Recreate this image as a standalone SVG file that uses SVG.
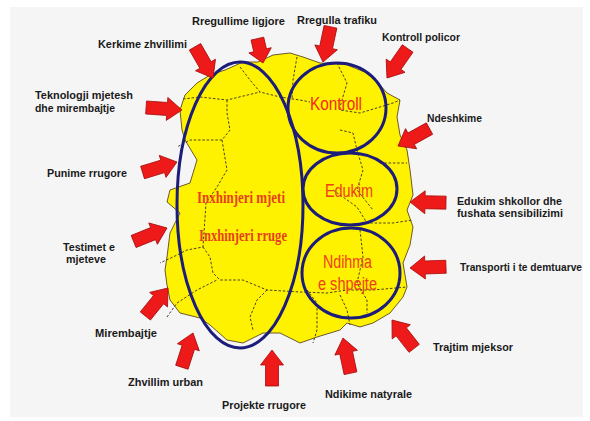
<svg xmlns="http://www.w3.org/2000/svg" xmlns:xlink="http://www.w3.org/1999/xlink" width="590" height="421" viewBox="0 0 590 421">
<style>
.lbl{font-family:"Liberation Sans",Arial,sans-serif;font-weight:bold;font-size:11px;fill:#1a1a1a}
.in{font-family:"Liberation Sans",Arial,sans-serif;font-size:18px;fill:#f22a18}
.ser{font-family:"Liberation Serif","Times New Roman",serif;font-weight:bold;font-size:16px;fill:#e8401c}
.ell{fill:none;stroke:#1c1c7a;stroke-width:3}
.dash{fill:none;stroke:#4a4020;stroke-width:1;stroke-dasharray:2.5 1.8}
.arr{fill:#ee1a1a;stroke:#a80d0d;stroke-width:0.8;stroke-linejoin:round}
</style>
<defs>
<path id="arr" d="M0,0 L-15,-11.5 L-15,-6.5 L-36,-6.5 L-36,6.5 L-15,6.5 L-15,11.5 Z"/>
<path id="arrs" d="M0,0 L-13,-11.5 L-13,-6.5 L-25,-6.5 L-25,6.5 L-13,6.5 L-13,11.5 Z"/>
</defs>
<rect width="590" height="421" fill="#ffffff"/>
<rect x="10" y="7" width="573" height="410" fill="#f5f5f5"/>
<g id="blob">
<polygon points="197,83 210,75 225,70 243,62 258,62 273,55 290,53 303,57 320,63 345,64 367,73 380,85 387,93 400,100 397,117 400,135 407,150 410,170 413,195 407,210 413,227 410,245 403,263 407,287 403,297 390,313 373,323 360,327 347,323 340,330 317,337 300,343 280,333 263,333 243,343 227,340 210,325 200,318 180,313 170,300 167,285 165,270 167,257 170,233 180,213 167,202 170,190 190,183 197,160 185,140 182,130 180,110 185,95" fill="#fff200" stroke="#6b5a2a" stroke-width="1" stroke-linejoin="round"/>
<polyline class="dash" points="240,67 250,80 260,92 280,97 300,100 310,102"/>
<polyline class="dash" points="183,99 200,97 227,100 260,92"/>
<polyline class="dash" points="297,57 293,80 292,100"/>
<polyline class="dash" points="227,100 227,113 230,130 222,140 190,140 177,147"/>
<polyline class="dash" points="222,140 227,170 217,187 206,203 203,247 187,250 173,257 160,263"/>
<polyline class="dash" points="337,63 347,83 340,107 340,110 360,113 380,107 393,103 400,100"/>
<polyline class="dash" points="340,130 353,133 357,150 363,170 357,190 373,210"/>
<polyline class="dash" points="380,163 407,163"/>
<polyline class="dash" points="333,190 357,207 367,223 393,223 413,220"/>
<polyline class="dash" points="203,247 210,257 213,273 220,280 243,280 267,290 300,292 327,293 347,290 373,290 407,287"/>
<polyline class="dash" points="167,317 177,303 197,290 217,280"/>
<polyline class="dash" points="267,290 257,300 250,317 253,330"/>
<polyline class="dash" points="307,290 317,303 317,330 313,343"/>
<polyline class="dash" points="360,230 363,257 357,283 367,300 367,313"/>
<polyline class="dash" points="340,295 347,310 350,325"/>
</g>
<g id="ellipse-inxhinjeri">
<ellipse class="ell" cx="240" cy="205" rx="63" ry="143"/>
<text class="ser" x="197" y="203" textLength="88" lengthAdjust="spacingAndGlyphs">Inxhinjeri  mjeti</text>
<text class="ser" x="199" y="241" textLength="88" lengthAdjust="spacingAndGlyphs">Inxhinjeri rruge</text>
</g>
<g id="ellipse-kontroll">
<ellipse class="ell" cx="337" cy="108" rx="49" ry="45"/>
<text class="in" x="310" y="110" textLength="52" lengthAdjust="spacingAndGlyphs">Kontroll</text>
</g>
<g id="ellipse-edukim">
<ellipse class="ell" cx="350" cy="189" rx="47" ry="36"/>
<text class="in" x="325" y="197" textLength="48" lengthAdjust="spacingAndGlyphs" style="fill:#ee4018">Edukim</text>
</g>
<g id="ellipse-ndihma">
<ellipse class="ell" cx="351" cy="273" rx="49" ry="45"/>
<text class="in" x="323" y="268" textLength="49" lengthAdjust="spacingAndGlyphs" style="fill:#ee4018">Ndihma</text>
<text class="in" x="318" y="290" textLength="59" lengthAdjust="spacingAndGlyphs" style="fill:#ee4018">e shpejte</text>
</g>
<g id="connectors">
<use xlink:href="#arr" class="arr" transform="translate(213,78) rotate(60)"/>
<use xlink:href="#arrs" class="arr" transform="translate(263,63) rotate(77)"/>
<use xlink:href="#arr" class="arr" transform="translate(323,62) rotate(102)"/>
<use xlink:href="#arr" class="arr" transform="translate(387,78) rotate(125)"/>
<use xlink:href="#arr" class="arr" transform="translate(182,110) rotate(4)"/>
<use xlink:href="#arr" class="arr" transform="translate(398,146) rotate(151)"/>
<use xlink:href="#arr" class="arr" transform="translate(177,162) rotate(-17)"/>
<use xlink:href="#arr" class="arr" transform="translate(410,202) rotate(181)"/>
<use xlink:href="#arr" class="arr" transform="translate(167,228) rotate(-22)"/>
<use xlink:href="#arr" class="arr" transform="translate(410,268) rotate(178)"/>
<use xlink:href="#arr" class="arr" transform="translate(168,288) rotate(-51)"/>
<use xlink:href="#arr" class="arr" transform="translate(193,333) rotate(-72)"/>
<use xlink:href="#arr" class="arr" transform="translate(272,350) rotate(-90)"/>
<use xlink:href="#arr" class="arr" transform="translate(343,338) rotate(-102)"/>
<use xlink:href="#arr" class="arr" transform="translate(392,320) rotate(-128)"/>
</g>
<g id="label-kerkime"><text class="lbl" x="98" y="48" textLength="89" lengthAdjust="spacingAndGlyphs">Kerkime zhvillimi</text></g>
<g id="label-rregullime"><text class="lbl" x="192" y="25" textLength="93" lengthAdjust="spacingAndGlyphs">Rregullime ligjore</text></g>
<g id="label-rregulla"><text class="lbl" x="297" y="24" textLength="80" lengthAdjust="spacingAndGlyphs">Rregulla trafiku</text></g>
<g id="label-kontroll-policor"><text class="lbl" x="382" y="41" textLength="78" lengthAdjust="spacingAndGlyphs">Kontroll policor</text></g>
<g id="label-teknologji"><text class="lbl" x="35" y="99" textLength="98" lengthAdjust="spacingAndGlyphs">Teknologji mjetesh</text><text class="lbl" x="35" y="112" textLength="80" lengthAdjust="spacingAndGlyphs">dhe mirembajtje</text></g>
<g id="label-ndeshkime"><text class="lbl" x="427" y="122" textLength="55" lengthAdjust="spacingAndGlyphs">Ndeshkime</text></g>
<g id="label-punime"><text class="lbl" x="47" y="177" textLength="80" lengthAdjust="spacingAndGlyphs">Punime rrugore</text></g>
<g id="label-testimet"><text class="lbl" x="63" y="251" textLength="52" lengthAdjust="spacingAndGlyphs">Testimet e</text><text class="lbl" x="66" y="263" textLength="40" lengthAdjust="spacingAndGlyphs">mjeteve</text></g>
<g id="label-edukim-shkollor"><text class="lbl" x="457" y="205" textLength="105" lengthAdjust="spacingAndGlyphs">Edukim shkollor dhe</text><text class="lbl" x="457" y="217" textLength="106" lengthAdjust="spacingAndGlyphs">fushata sensibilizimi</text></g>
<g id="label-transporti"><text class="lbl" x="460" y="271" textLength="122" lengthAdjust="spacingAndGlyphs">Transporti i te demtuarve</text></g>
<g id="label-mirembajtje"><text class="lbl" x="95" y="337" textLength="62" lengthAdjust="spacingAndGlyphs">Mirembajtje</text></g>
<g id="label-zhvillim"><text class="lbl" x="128" y="386" textLength="75" lengthAdjust="spacingAndGlyphs">Zhvillim urban</text></g>
<g id="label-projekte"><text class="lbl" x="222" y="409" textLength="84" lengthAdjust="spacingAndGlyphs">Projekte rrugore</text></g>
<g id="label-ndikime"><text class="lbl" x="325" y="398" textLength="87" lengthAdjust="spacingAndGlyphs">Ndikime natyrale</text></g>
<g id="label-trajtim"><text class="lbl" x="433" y="351" textLength="80" lengthAdjust="spacingAndGlyphs">Trajtim mjeksor</text></g>
</svg>
